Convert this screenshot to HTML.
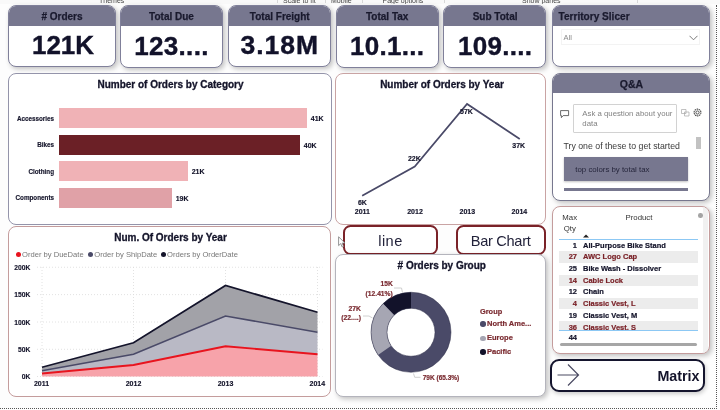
<!DOCTYPE html>
<html>
<head>
<meta charset="utf-8">
<style>
*{box-sizing:border-box;margin:0;padding:0}
html,body{width:720px;height:410px;overflow:hidden;background:#fdfdfd;font-family:"Liberation Sans",sans-serif;}
body{position:relative}
.abs{position:absolute}
.t{position:absolute;white-space:nowrap;line-height:1;transform:translateY(-50%)}
.c{transform:translate(-50%,-50%)}
.r{transform:translate(-100%,-50%)}
.b{font-weight:bold}
.panel{position:absolute;background:#fff;border:1px solid #80809a;border-radius:8px;box-shadow:2px 2px 5px rgba(0,0,0,.24);overflow:hidden}
.ns{box-shadow:none}
.hdr{position:absolute;left:0;top:0;right:0;background:#77778f}
.card .hdr{height:19.25px}
.ct{font-size:10px;font-weight:bold;color:#1a1a2e;-webkit-text-stroke:.25px #1a1a2e}
.cv{font-size:26px;font-weight:bold;color:#12122a;-webkit-text-stroke:.4px #12122a}
.pt{font-size:10px;font-weight:bold;color:#14142a;-webkit-text-stroke:.3px #14142a}
.dl{font-size:7px;font-weight:bold;color:#14142a;-webkit-text-stroke:.15px currentColor}
.bl{font-size:6.3px}
.yl{font-size:6.7px}
.lg{font-size:7.6px;color:#777}
.dr{color:#7a2a30;-webkit-text-stroke:.2px #7a2a30}
.tr{font-size:7.5px;font-weight:bold;color:#14142a;-webkit-text-stroke:.2px currentColor}
</style>
</head>
<body>
<div id="w" style="position:absolute;left:0;top:0;width:720px;height:410px;will-change:transform;overflow:hidden">
<!-- ribbon strip -->
<div class="abs" style="left:0;top:0;width:720px;height:3.7px;background:#f9f9f9;overflow:hidden;font-size:7px;color:#444">
  <div class="t" style="left:99px;top:0.3px">Themes</div>
  <div class="t" style="left:283px;top:0.3px">Scale to fit</div>
  <div class="t" style="left:331px;top:0.3px">Mobile</div>
  <div class="t" style="left:382.5px;top:0.3px">Page options</div>
  <div class="t" style="left:522px;top:0.3px">Show panes</div>
  <div class="abs" style="left:277px;top:0;width:1px;height:3px;background:#d8d8d8"></div>
  <div class="abs" style="left:325px;top:0;width:1px;height:3px;background:#d8d8d8"></div>
  <div class="abs" style="left:361.5px;top:0;width:1px;height:3px;background:#d8d8d8"></div>
  <div class="abs" style="left:443.5px;top:0;width:1px;height:3px;background:#d8d8d8"></div>
  <div class="abs" style="left:637px;top:0;width:1px;height:3px;background:#d8d8d8"></div>
</div>

<!-- KPI cards -->
<div class="panel card" style="left:8px;top:5.35px;width:107.5px;height:61.45px">
  <div class="hdr"></div>
  <div class="t c ct" style="left:53px;top:10.7px"># Orders</div>
  <div class="t c cv" style="left:54px;top:38.50px">121K</div>
</div>
<div class="panel card" style="left:120px;top:5.35px;width:103px;height:62.55px">
  <div class="hdr"></div>
  <div class="t c ct" style="left:50.5px;top:10.7px">Total Due</div>
  <div class="t c cv" style="left:50.5px;top:39.50px;letter-spacing:.3px">123....</div>
</div>
<div class="panel card" style="left:228.25px;top:5.35px;width:103px;height:61.45px">
  <div class="hdr"></div>
  <div class="t c ct" style="left:50.5px;top:10.7px">Total Freight</div>
  <div class="t c cv" style="left:50.5px;top:38.50px;font-size:26.5px;letter-spacing:.95px">3.18M</div>
</div>
<div class="panel card" style="left:335.7px;top:5.35px;width:103.1px;height:62.55px">
  <div class="hdr"></div>
  <div class="t c ct" style="left:50.5px;top:10.7px">Total Tax</div>
  <div class="t c cv" style="left:50.5px;top:39.50px;letter-spacing:.3px">10.1...</div>
</div>
<div class="panel card" style="left:443.1px;top:5.35px;width:102.9px;height:62.55px">
  <div class="hdr"></div>
  <div class="t c ct" style="left:51px;top:10.7px">Sub Total</div>
  <div class="t c cv" style="left:51px;top:39.50px;letter-spacing:.3px">109....</div>
</div>
<div class="panel card" style="left:552px;top:5.35px;width:157.5px;height:61.45px">
  <div class="hdr"></div>
  <div class="t ct" style="left:5.5px;top:10.8px;font-size:10.1px">Territory Slicer</div>
  <div class="abs" style="left:8px;top:23px;width:139px;height:15.5px;border:1px solid #f3f3f3"></div>
  <div class="t" style="left:10.5px;top:31.2px;font-size:7.5px;color:#8a8a8a">All</div>
  <svg class="abs" style="left:135.5px;top:28.5px" width="9" height="6" viewBox="0 0 9 6"><path d="M0.5 0.8 L4.5 4.8 L8.5 0.8" fill="none" stroke="#6a6a6a" stroke-width="0.9"/></svg>
</div>

<!-- Bar chart panel -->
<div class="panel ns" style="left:8px;top:73px;width:323.5px;height:151.5px;border-color:#9494aa">
  <div class="t c pt" style="left:161.5px;top:10.5px">Number of Orders by Category</div>
  <div class="t r dl bl" style="left:45px;top:44.75px">Accessories</div>
  <div class="t r dl bl" style="left:45px;top:71.3px">Bikes</div>
  <div class="t r dl bl" style="left:45px;top:97.75px">Clothing</div>
  <div class="t r dl bl" style="left:45px;top:123.75px">Components</div>
  <div class="abs" style="left:50.25px;top:34.25px;width:247.25px;height:19.75px;background:#f0b2b6"></div>
  <div class="abs" style="left:50.25px;top:60.75px;width:240.25px;height:19.75px;background:#6b2026"></div>
  <div class="abs" style="left:50.25px;top:87.25px;width:128.25px;height:19.75px;background:#f0b2b6"></div>
  <div class="abs" style="left:50.25px;top:113.75px;width:112.25px;height:19.75px;background:#e0a1a7"></div>
  <div class="t dl" style="left:301.8px;top:44.2px">41K</div>
  <div class="t dl" style="left:294.8px;top:70.8px">40K</div>
  <div class="t dl" style="left:182.7px;top:97px">21K</div>
  <div class="t dl" style="left:166.7px;top:123.5px">19K</div>
</div>

<!-- Line chart panel -->
<div class="panel ns" style="left:335.25px;top:73px;width:210.5px;height:151.5px;border-color:#c9a3a3">
  <div class="t c pt" style="left:105.75px;top:11px">Number of Orders by Year</div>
  <svg class="abs" style="left:0;top:0" width="210" height="150"><polyline points="26.15,121.8 78.75,92.5 131.05,30 183.75,65" fill="none" stroke="#4a4a68" stroke-width="1.7" stroke-linejoin="miter"/></svg>
  <div class="t c dl" style="left:26.15px;top:127.6px">6K</div>
  <div class="t c dl" style="left:78.15px;top:84.4px">22K</div>
  <div class="t c dl" style="left:130.25px;top:37.4px">57K</div>
  <div class="t c dl" style="left:182.45px;top:71.4px">37K</div>
  <div class="t c dl" style="left:26.15px;top:136.8px">2011</div>
  <div class="t c dl" style="left:78.75px;top:136.8px">2012</div>
  <div class="t c dl" style="left:131.05px;top:136.8px">2013</div>
  <div class="t c dl" style="left:183.15px;top:136.8px">2014</div>
</div>

<!-- Area chart panel -->
<div class="panel ns" style="left:8px;top:226.25px;width:323px;height:171px;border-color:#c49c9c">
  <div class="t c pt" style="left:161.5px;top:10.75px">Num. Of Orders by Year</div>
  <div class="abs" style="left:6.7px;top:24.25px;width:5px;height:5px;border-radius:50%;background:#e8141e"></div>
  <div class="t lg" style="left:13px;top:28px">Order by DueDate</div>
  <div class="abs" style="left:79px;top:24.25px;width:5px;height:5px;border-radius:50%;background:#4a4a68"></div>
  <div class="t lg" style="left:85.3px;top:28px">Order by ShipDate</div>
  <div class="abs" style="left:152px;top:24.25px;width:5px;height:5px;border-radius:50%;background:#14142b"></div>
  <div class="t lg" style="left:158px;top:28px">Orders by OrderDate</div>
  <svg class="abs" style="left:0;top:0" width="321" height="168">
    <g stroke="#dadada" stroke-width="0.8" stroke-dasharray="1 2" fill="none">
      <path d="M28 40.25H313.5M28 67.6H313.5M28 95H313.5M28 122.3H313.5M28 149.5H313.5"/>
      <path d="M33 40V149M124.5 40V149M216.5 40V149M308.5 40V149"/>
    </g>
    <polygon points="33,140.25 124.5,115.75 216.5,58.5 308.5,85.25 308.5,105.25 216.5,89 124.5,127.25 33,143.75" fill="#a2a2a8"/>
    <polygon points="33,143.75 124.5,127.25 216.5,89 308.5,105.25 308.5,127.25 216.5,119.25 124.5,138 33,146.5" fill="#b9b9c5"/>
    <polygon points="33,146.5 124.5,138 216.5,119.25 308.5,127.25 308.5,149.5 33,149.5" fill="#f7a3aa"/>
    <polyline points="33,140.25 124.5,115.75 216.5,58.5 308.5,85.25" fill="none" stroke="#14142b" stroke-width="1.8"/>
    <polyline points="33,143.75 124.5,127.25 216.5,89 308.5,105.25" fill="none" stroke="#4a4a68" stroke-width="1.6"/>
    <polyline points="33,146.5 124.5,138 216.5,119.25 308.5,127.25" fill="none" stroke="#e8141e" stroke-width="1.8"/>
  </svg>
  <div class="t r dl yl" style="left:21.3px;top:40.40px">200K</div>
  <div class="t r dl yl" style="left:21.3px;top:67.70px">150K</div>
  <div class="t r dl yl" style="left:21.3px;top:95.55px">100K</div>
  <div class="t r dl yl" style="left:21.3px;top:122.65px">50K</div>
  <div class="t r dl yl" style="left:21.3px;top:149.55px">0K</div>
  <div class="t c dl" style="left:32.5px;top:155.4px">2011</div>
  <div class="t c dl" style="left:124.5px;top:155.4px">2012</div>
  <div class="t c dl" style="left:216.5px;top:155.4px">2013</div>
  <div class="t c dl" style="left:308.3px;top:155.4px">2014</div>
</div>

<!-- Buttons line / Bar Chart -->
<div class="abs" style="left:342.6px;top:225.3px;width:95.5px;height:29.5px;border:2.3px solid #7a2228;border-radius:7.5px;background:#fff"></div>
<div class="t c" style="left:390.5px;top:241px;font-size:14.6px;letter-spacing:.4px;color:#22223a">line</div>
<div class="abs" style="left:455.75px;top:225.3px;width:90px;height:29.8px;border:2.3px solid #7a2228;border-radius:7.5px;background:#fff"></div>
<div class="t c" style="left:500.6px;top:241px;font-size:14.6px;letter-spacing:-.3px;color:#22223a">Bar Chart</div>

<!-- Donut panel -->
<div class="panel" style="left:335.25px;top:254.25px;width:210.5px;height:143px;border-color:#b4b4bc">
  <div class="t c pt" style="left:105.5px;top:11px"># Orders by Group</div>
  <svg class="abs" style="left:0;top:0" width="208" height="140">
    <g transform="translate(75,77.25)">
      <circle r="32" fill="none" stroke="#4a4a68" stroke-width="16"/>
      <circle r="32" fill="none" stroke="#a6a6b3" stroke-width="16" stroke-dasharray="44.9 201.1" stroke-dashoffset="-131.3" transform="rotate(-90)"/>
      <circle r="32" fill="none" stroke="#12122a" stroke-width="16" stroke-dasharray="25 201.1" stroke-dashoffset="-176.1" transform="rotate(-90)"/>
      <circle r="40" fill="none" stroke="#2e2e48" stroke-width="0.5"/>
      <circle r="24" fill="none" stroke="#2e2e48" stroke-width="0.5"/>
    </g>
    <g stroke="#c4c4c4" stroke-width="0.8" fill="none">
      <path d="M58 33 H65.5 L66.5 37.5"/>
      <path d="M27 61 H33 L36.5 63"/>
      <path d="M77.5 118.5 L78.7 122.3 H84.5"/>
    </g>
  </svg>
  <div class="t r dl dr" style="left:56.5px;top:29.2px;font-size:6.7px">15K</div>
  <div class="t r dl dr" style="left:56.5px;top:38.3px;font-size:6.7px">(12.41%)</div>
  <div class="t r dl dr" style="left:24.7px;top:54.2px;font-size:6.8px">27K</div>
  <div class="t r dl dr" style="left:24.7px;top:62.6px;font-size:6.8px">(22....)</div>
  <div class="t dl dr" style="left:86.5px;top:122.6px;font-size:6.5px">79K (65.3%)</div>
  <div class="t dl dr" style="left:143.75px;top:56.8px;font-size:7.4px">Group</div>
  <div class="abs" style="left:144px;top:66.2px;width:5.5px;height:5.5px;border-radius:50%;background:#4a4a68"></div>
  <div class="t dl dr" style="left:150.75px;top:68.8px;font-size:7.5px">North Ame...</div>
  <div class="abs" style="left:144px;top:80.4px;width:5.5px;height:5.5px;border-radius:50%;background:#a6a6b3"></div>
  <div class="t dl dr" style="left:150.75px;top:83px;font-size:7.5px">Europe</div>
  <div class="abs" style="left:144px;top:94.2px;width:5.5px;height:5.5px;border-radius:50%;background:#12122a"></div>
  <div class="t dl dr" style="left:150.75px;top:96.8px;font-size:7.5px">Pacific</div>
</div>

<!-- Q&A panel -->
<div class="panel" style="left:552px;top:73px;width:157.5px;height:127.5px;border-color:#77778e">
  <div class="hdr" style="height:19px"></div>
  <div class="t c ct" style="left:78.5px;top:10.3px;font-size:10.5px">Q&amp;A</div>
  <svg class="abs" style="left:7px;top:35.5px" width="10" height="9" viewBox="0 0 10 9"><path d="M0.6 0.6 H8.6 V5.6 H3.2 L1.4 7.6 V5.6 H0.6 Z" fill="none" stroke="#444" stroke-width="0.8"/></svg>
  <div class="abs" style="left:20px;top:30px;width:104px;height:29px;border:1px solid #d2d2d2;border-radius:1px"></div>
  <div class="t" style="left:29.3px;top:39.6px;font-size:7.8px;color:#828282">Ask a question about your</div>
  <div class="t" style="left:29.3px;top:49.6px;font-size:7.8px;color:#828282">data</div>
  <svg class="abs" style="left:128px;top:34.5px" width="9" height="8" viewBox="0 0 9 8"><path d="M0.5 0.5 H5 V4.5 H0.5 Z M3.5 3 H8 V7 H3.5 Z" fill="none" stroke="#a8a8a8" stroke-width="0.7"/></svg>
  <svg class="abs" style="left:139.5px;top:34px" width="9" height="9" viewBox="0 0 9 9"><circle cx="4.5" cy="4.5" r="3.4" fill="none" stroke="#444" stroke-width="1.1" stroke-dasharray="1.4 0.7"/><circle cx="4.5" cy="4.5" r="1.6" fill="none" stroke="#444" stroke-width="0.9"/></svg>
  <div class="t" style="left:10.5px;top:71.7px;font-size:8.75px;color:#3a3a3a">Try one of these to get started</div>
  <div class="abs" style="left:143px;top:63px;width:4.5px;height:12px;background:#c2c2c2"></div>
  <div class="abs" style="left:10.75px;top:83px;width:123.75px;height:24.25px;background:#77778f;box-shadow:0 1px 2px rgba(0,0,0,.25)"></div>
  <div class="t" style="left:22.3px;top:95.7px;font-size:7.85px;color:#26263c">top colors by total tax</div>
  <div class="abs" style="left:10.75px;top:114.25px;width:123.75px;height:3px;background:#77778f"></div>
</div>

<!-- Table panel -->
<div class="panel" style="left:552px;top:206.25px;width:157.5px;height:147.25px;border-color:#c49c9c">
  <div class="abs" style="left:5.5px;top:44px;width:139.5px;height:11.6px;background:#ececec"></div>
  <div class="abs" style="left:5.5px;top:67.3px;width:139.5px;height:11.6px;background:#ececec"></div>
  <div class="abs" style="left:5.5px;top:90.6px;width:139.5px;height:11.6px;background:#ececec"></div>
  <div class="abs" style="left:5.5px;top:113.9px;width:139.5px;height:9px;background:#ececec"></div>
  <div class="abs" style="left:5.5px;top:31.3px;width:139.5px;height:1px;background:#8cc8f4"></div>
  <div class="abs" style="left:5.5px;top:122.4px;width:139.5px;height:1px;background:#8cc8f4"></div>
  <div class="t" style="left:9.3px;top:10.9px;font-size:7.8px;color:#333">Max</div>
  <div class="t" style="left:10.8px;top:21.4px;font-size:7.8px;color:#333">Qty</div>
  <div class="t" style="left:72.5px;top:10.9px;font-size:7.8px;color:#333">Product</div>
  <svg class="abs" style="left:30px;top:27px" width="6" height="4" viewBox="0 0 6 4"><path d="M0 3.5 L3 0.5 L6 3.5 Z" fill="#222"/></svg>
  <div class="abs" style="left:150.2px;top:0;width:4.6px;height:146px;background:#f1f1f1"></div>
  <div class="abs" style="left:145.1px;top:5.9px;width:4.6px;height:4.6px;border-radius:50%;background:#a4a4a4"></div>
  <div class="t r tr" style="left:24px;top:38.50px">1</div><div class="t tr" style="left:30px;top:38.50px">All-Purpose Bike Stand</div>
  <div class="t r tr" style="left:24px;top:50.17px;color:#7a2228">27</div><div class="t tr" style="left:30px;top:50.17px;color:#7a2228">AWC Logo Cap</div>
  <div class="t r tr" style="left:24px;top:61.84px">25</div><div class="t tr" style="left:30px;top:61.84px">Bike Wash - Dissolver</div>
  <div class="t r tr" style="left:24px;top:73.51px;color:#7a2228">14</div><div class="t tr" style="left:30px;top:73.51px;color:#7a2228">Cable Lock</div>
  <div class="t r tr" style="left:24px;top:85.18px">12</div><div class="t tr" style="left:30px;top:85.18px">Chain</div>
  <div class="t r tr" style="left:24px;top:96.85px;color:#7a2228">4</div><div class="t tr" style="left:30px;top:96.85px;color:#7a2228">Classic Vest, L</div>
  <div class="t r tr" style="left:24px;top:108.52px">19</div><div class="t tr" style="left:30px;top:108.52px">Classic Vest, M</div>
  <div class="abs" style="left:5.5px;top:113.9px;width:139.5px;height:8.5px;overflow:hidden">
    <div class="t r tr" style="left:18.5px;top:6.9px;color:#7a2228">36</div><div class="t tr" style="left:24.5px;top:6.9px;color:#7a2228">Classic Vest, S</div>
  </div>
  <div class="t r tr" style="left:24px;top:130.3px">44</div>
  <div class="abs" style="left:6.5px;top:135.8px;width:137.5px;height:3px;border-radius:2px;background:#a6a6a6"></div>
</div>

<!-- Matrix button -->
<div class="abs" style="left:550.3px;top:359.2px;width:155px;height:33px;border:2px solid #14142d;border-radius:9px;background:#fff;box-shadow:1px 2px 4px rgba(0,0,0,.2)"></div>
<svg class="abs" style="left:556px;top:363px" width="26" height="25" viewBox="0 0 26 25"><path d="M1.5 12 H22.5 M12 1.5 L22.5 12 L12 22.5" fill="none" stroke="#4a4a62" stroke-width="1.2"/></svg>
<div class="t r b" style="left:699.5px;top:376px;font-size:14.3px;color:#14142b">Matrix</div>

<!-- canvas dotted bounds -->
<div class="abs" style="left:0;top:408px;width:717px;height:0;border-top:1px dotted #555"></div>
<div class="abs" style="left:716px;top:5px;width:0;height:404px;border-left:1px dotted #555"></div>

<!-- mouse cursor -->
<svg class="abs" style="left:337.7px;top:236px" width="8" height="12" viewBox="0 0 8 12"><path d="M0.6 0.8 V9.6 L2.7 7.6 L4.2 11 L5.6 10.4 L4.1 7.1 H7 Z" fill="#fff" stroke="#777" stroke-width="0.8"/></svg>
</div>
</body>
</html>
